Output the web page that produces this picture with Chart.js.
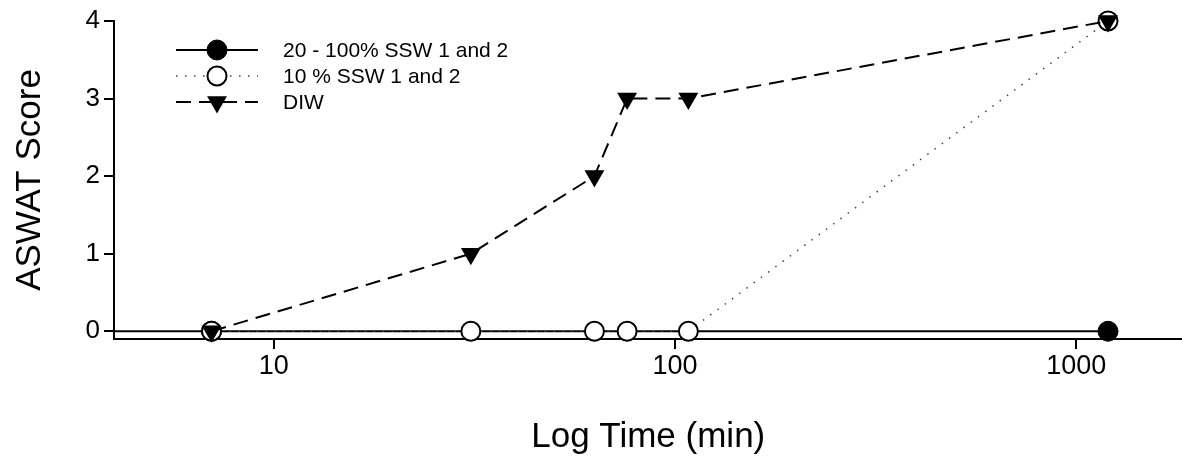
<!DOCTYPE html>
<html>
<head>
<meta charset="utf-8">
<script src="https://cdn.jsdelivr.net/npm/chart.js@4/dist/chart.umd.min.js"></script>
<style>
  html, body { margin: 0; padding: 0; background: #fff; overflow: hidden; }
  #wrap { width: 1182px; height: 470px; overflow: hidden; }
</style>
</head>
<body>
<div id="wrap"><canvas id="aswat_chart" width="1194" height="470"></canvas></div>
<script>
// time in minutes (log axis) and ASWAT scores
var timesHigh = [2, 7, 1200];
var scoreHigh = [0, 0, 0];
var timesLow = [7, 31, 63, 76, 108, 1200];
var scoreLow = [0, 0, 0, 0, 0, 4];
var timesDiw = [7, 31, 63, 76, 108, 1200];
var scoreDiw = [0, 1, 2, 3, 3, 4];
var xTicks = [10, 100, 1000];
var yTicks = [0, 1, 2, 3, 4];
var seriesNames = ["20 - 100% SSW 1 and 2", "10 % SSW 1 and 2", "DIW"];

var FONT = "'Liberation Sans', Arial, sans-serif";

function toPoints(xs, ys) {
    return xs.map(function (x, i) { return { x: x, y: ys[i] }; });
}

function drawMarker(ctx, ds, x, y) {
    ctx.save();
    ctx.setLineDash([]);
    ctx.fillStyle = ds.pointBackgroundColor;
    ctx.strokeStyle = ds.pointBorderColor;
    ctx.lineWidth = ds.pointBorderWidth;
    var r = ds.pointRadius;
    ctx.beginPath();
    if (ds.pointStyle === 'triangle') {
        // downward triangle, same geometry as Chart.js triangle rotated 180
        ctx.moveTo(x, y + r);
        ctx.lineTo(x - r * Math.sin(Math.PI / 3), y - r / 2);
        ctx.lineTo(x + r * Math.sin(Math.PI / 3), y - r / 2);
        ctx.closePath();
    } else {
        ctx.arc(x, y, r, 0, Math.PI * 2);
    }
    ctx.fill();
    if (ds.pointBorderWidth > 0) ctx.stroke();
    ctx.restore();
}

// SigmaPlot style legend: line sample with marker in the middle
var lineLegend = {
    id: 'lineLegend',
    afterDraw: function (chart) {
        var ctx = chart.ctx;
        chart.data.datasets.forEach(function (ds, i) {
            var y = 50 + i * 26;
            ctx.save();
            ctx.strokeStyle = ds.borderColor;
            ctx.lineWidth = ds.borderWidth;
            ctx.setLineDash(ds.borderDash || []);
            ctx.beginPath();
            ctx.moveTo(176, y);
            ctx.lineTo(258, y);
            ctx.stroke();
            ctx.restore();
            drawMarker(ctx, ds, 217, y);
            ctx.save();
            ctx.fillStyle = '#000';
            ctx.font = "21px " + FONT;
            ctx.textBaseline = 'middle';
            ctx.fillText(ds.label, 283, y + 1);
            ctx.restore();
        });
    }
};

new Chart(document.getElementById("aswat_chart").getContext("2d"), {
    type: 'line',
    data: {
        datasets: [{
            label: seriesNames[0],
            data: toPoints(timesHigh, scoreHigh),
            borderColor: '#000',
            borderWidth: 2,
            pointStyle: 'circle',
            pointRadius: 10,
            pointBackgroundColor: '#000',
            pointBorderColor: '#000',
            pointBorderWidth: 1,
            order: 3
        }, {
            label: seriesNames[1],
            data: toPoints(timesLow, scoreLow),
            borderColor: '#444',
            borderWidth: 1.5,
            borderDash: [1.5, 7.5],
            pointStyle: 'circle',
            pointRadius: 9.5,
            pointBackgroundColor: '#fff',
            pointBorderColor: '#000',
            pointBorderWidth: 2,
            order: 2
        }, {
            label: seriesNames[2],
            data: toPoints(timesDiw, scoreDiw),
            borderColor: '#000',
            borderWidth: 2,
            borderDash: [15, 8],
            pointStyle: 'triangle',
            pointRotation: 180,
            pointRadius: 11.5,
            pointBackgroundColor: '#000',
            pointBorderColor: '#000',
            pointBorderWidth: 0,
            order: 1
        }]
    },
    options: {
        responsive: false,
        animation: false,
        clip: { left: 0, top: 20, right: 20, bottom: 20 },
        layout: { padding: { top: 21, right: 0, left: 0, bottom: 0 } },
        plugins: {
            legend: { display: false },
            tooltip: { enabled: false }
        },
        scales: {
            x: {
                type: 'logarithmic',
                min: 4,
                max: 1840,
                afterBuildTicks: function (axis) {
                    axis.ticks = xTicks.map(function (v) { return { value: v }; });
                },
                afterFit: function (axis) { axis.height = 131; },
                grid: { display: true, drawOnChartArea: false, drawTicks: true, tickLength: 10, color: '#000', lineWidth: 2 },
                border: { display: true, color: '#000', width: 2 },
                ticks: {
                    color: '#000',
                    font: { family: FONT, size: 27 },
                    padding: 1,
                    maxRotation: 0,
                    callback: function (v) { return String(v); }
                },
                title: {
                    display: true,
                    text: 'Log Time (min)',
                    color: '#000',
                    font: { family: FONT, size: 35 },
                    padding: { top: 0, bottom: 12 }
                }
            },
            y: {
                min: -0.1,
                max: 4,
                afterBuildTicks: function (axis) {
                    axis.ticks = yTicks.map(function (v) { return { value: v }; });
                },
                afterFit: function (axis) { axis.width = 114; },
                grid: { display: true, drawOnChartArea: false, drawTicks: true, tickLength: 10, color: '#000', lineWidth: 2 },
                border: { display: true, color: '#000', width: 2 },
                ticks: {
                    color: '#000',
                    font: { family: FONT, size: 26 },
                    padding: 4
                },
                title: {
                    display: true,
                    text: 'ASWAT Score',
                    color: '#000',
                    font: { family: FONT, size: 35 },
                    padding: { top: 9, bottom: 0 }
                }
            }
        }
    },
    plugins: [lineLegend]
});
</script>
</body>
</html>
